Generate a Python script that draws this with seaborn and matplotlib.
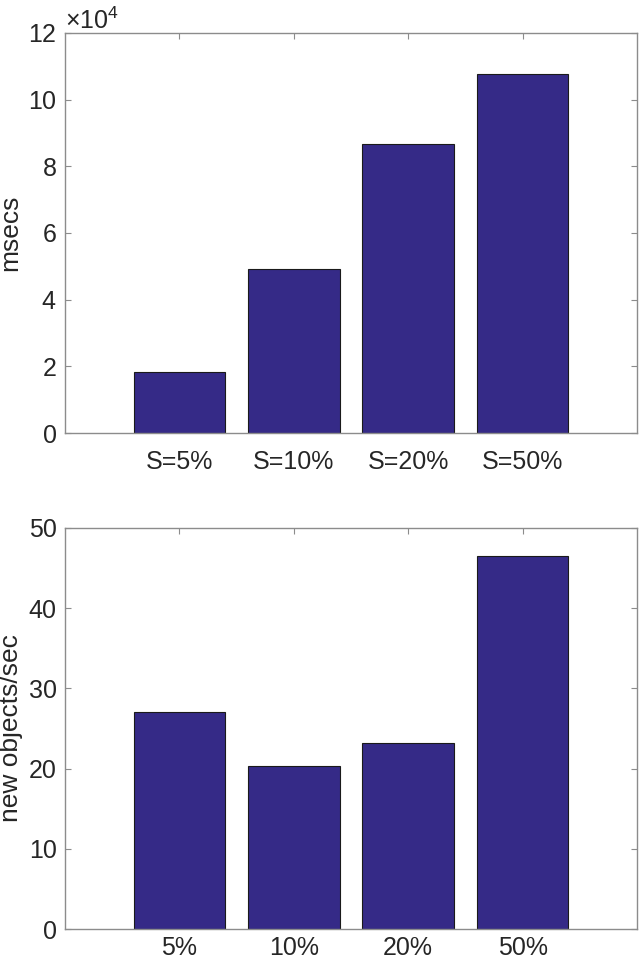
import numpy as np
import pandas as pd
import matplotlib
matplotlib.use("Agg")
import matplotlib.pyplot as plt
import seaborn as sns
from matplotlib.ticker import ScalarFormatter


# data
top_labels = ["S=5%", "S=10%", "S=20%", "S=50%"]
top_msecs = [18400, 49200, 86600, 107700]

bottom_labels = ["5%", "10%", "20%", "50%"]
bottom_rate = [27.1, 20.3, 23.2, 46.5]

bar_color = "#352A87"
axis_grey = "#8c8c8c"
text_dark = "#262626"

sns.set_theme(style="white")
plt.rcParams["font.family"] = ["Liberation Sans", "DejaVu Sans"]
plt.rcParams["mathtext.fontset"] = "custom"
plt.rcParams["mathtext.rm"] = "Liberation Sans"
plt.rcParams["mathtext.it"] = "Liberation Sans"

fig = plt.figure(figsize=(6.4, 9.64), dpi=100)
ax1 = fig.add_axes([0.1016, 0.5508, 0.8937, 0.415])
ax2 = fig.add_axes([0.1016, 0.0363, 0.8937, 0.416])

df_top = pd.DataFrame({"label": top_labels, "msecs": top_msecs})
df_bot = pd.DataFrame({"label": bottom_labels, "rate": bottom_rate})

sns.barplot(data=df_top, x="label", y="msecs", color=bar_color, saturation=1,
            width=0.8, edgecolor="#1a1a1a", linewidth=0.8, ax=ax1)
sns.barplot(data=df_bot, x="label", y="rate", color=bar_color, saturation=1,
            width=0.8, edgecolor="#1a1a1a", linewidth=0.8, ax=ax2)

# top panel axis, fixed x10^4 multiplier
ax1.set_ylim(0, 120000)
ax1.set_yticks(np.arange(0, 120001, 20000))
fmt = ScalarFormatter(useMathText=True)
fmt.set_powerlimits((4, 4))
ax1.yaxis.set_major_formatter(fmt)
ax1.yaxis.get_offset_text().set_fontsize(18)
ax1.yaxis.get_offset_text().set_color(text_dark)
ax1.set_ylabel("msecs", fontsize=19, color=text_dark, labelpad=4)

# bottom panel axis
ax2.set_ylim(0, 50)
ax2.set_yticks(np.arange(0, 51, 10))
ax2.set_ylabel("new objects/sec", fontsize=19, color=text_dark, labelpad=4)

for ax in (ax1, ax2):
    ax.set_xlim(-1, 4)
    ax.set_xlabel("")
    ax.tick_params(axis="both", direction="in", length=4, width=0.8,
                   color=axis_grey, labelsize=18, labelcolor=text_dark,
                   top=True, right=True, left=True, bottom=True)
    ax.tick_params(axis="y", pad=6)
    for spine in ax.spines.values():
        spine.set_visible(True)
        spine.set_color(axis_grey)
        spine.set_linewidth(1.0)

ax1.tick_params(axis="x", pad=12)
ax2.tick_params(axis="x", pad=5)

plt.savefig("out.png", dpi=100)
